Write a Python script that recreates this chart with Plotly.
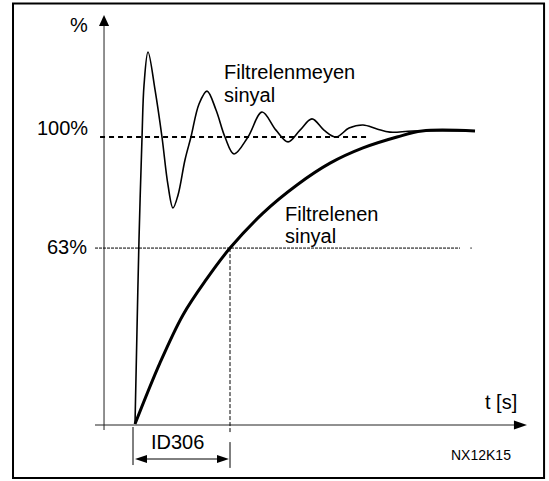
import plotly.graph_objects as go

# time in units of the filter time constant (ID306), level in %
raw_t = [0.0, 0.021, 0.042, 0.074, 0.095, 0.137, 0.211, 0.284, 0.347, 0.400, 0.453,
         0.526, 0.589, 0.674, 0.758, 0.853, 0.947, 1.042, 1.189, 1.337, 1.484, 1.611,
         1.737, 1.863, 1.989, 2.116, 2.253, 2.400, 2.547, 2.684, 2.926, 3.579]
raw_p = [0.0, 32.8, 64.1, 100.0, 118.1, 129.6, 116.4, 100.0, 83.3, 75.3, 79.8,
         92.0, 100.0, 111.5, 116.0, 109.4, 100.0, 94.1, 100.0, 108.7, 102.4, 98.3,
         102.4, 106.3, 102.4, 100.0, 103.1, 104.2, 102.8, 101.7, 102.1, 102.1]

filt_t = [0.0, 0.263, 0.505, 0.747, 1.0, 1.347, 1.705, 2.053, 2.400, 2.758, 3.021, 3.579]
filt_p = [0.0, 21.3, 38.0, 50.2, 61.3, 73.5, 83.3, 90.9, 96.2, 100.0, 102.1, 102.1]

level_100 = 100.0
level_63 = 61.3
tau = 1.0  # ID306

FONT = "Liberation Sans, Arial, sans-serif"

fig = go.Figure()

fig.add_trace(go.Scatter(x=raw_t, y=raw_p, mode="lines", line_shape="spline",
                         line=dict(color="black", width=1.6), hoverinfo="skip"))
fig.add_trace(go.Scatter(x=filt_t, y=filt_p, mode="lines", line_shape="spline",
                         line=dict(color="black", width=3), hoverinfo="skip"))

# filled arrow heads
def head(pts):
    fig.add_trace(go.Scatter(x=[p[0] for p in pts], y=[p[1] for p in pts], mode="lines",
                             fill="toself", fillcolor="black", line=dict(width=0),
                             hoverinfo="skip"))

head([(-0.326, 142.5), (-0.379, 138.7), (-0.273, 138.7), (-0.326, 142.5)])   # y axis
head([(4.126, -0.35), (3.989, 1.22), (3.989, -1.92), (4.126, -0.35)])        # x axis
head([(0.0, -12.2), (0.126, -10.8), (0.126, -13.6), (0.0, -12.2)])            # ID306 left
head([(0.989, -12.2), (0.863, -10.8), (0.863, -13.6), (0.989, -12.2)])        # ID306 right

def seg(x0, y0, x1, y1, width=1, dash="solid", color="black"):
    fig.add_shape(type="line", x0=x0, y0=y0, x1=x1, y1=y1, xref="x", yref="y",
                  line=dict(color=color, width=width, dash=dash))

# axes
seg(-0.326, -2.09, -0.326, 138.8, color="#222")
seg(-0.421, -0.35, 3.99, -0.35, color="#222")
# guide lines
seg(-0.368, level_100, 2.453, level_100, width=2, dash="5px,4px")
seg(-0.421, level_63, 3.421, level_63, width=1, dash="3px,1px")
seg(3.53, level_63, 3.545, level_63, width=1)
seg(tau, level_63, tau, -3.1, width=1, dash="4px,2px")
# ID306 span markers
seg(-0.021, -1.05, -0.021, -14.3)
seg(tau, -6.3, tau, -15.3)
seg(0.1, -12.2, 0.9, -12.2)

# frame
fig.add_shape(type="rect", xref="paper", yref="paper", x0=0.0237, x1=0.991, y0=0.0062, y1=0.9927,
              line=dict(color="black", width=2))

def label(x, y, text, size=20, xanchor="left"):
    fig.add_annotation(x=x, y=y, xref="x", yref="y", text=text, showarrow=False,
                       xanchor=xanchor, yanchor="middle", borderpad=0,
                       font=dict(family=FONT, size=size, color="black"))

label(-0.589, 138.9, "%", xanchor="center")
label(-0.484, 103.1, "100%", xanchor="right")
label(-0.495, 61.7, "63%", xanchor="right")
label(0.926, 122.6, "Filtrelenmeyen")
label(0.926, 114.8, "sinyal")
label(1.568, 73.2, "Filtrelenen")
label(1.568, 65.4, "sinyal")
label(3.674, 7.67, "t [s]")
label(0.447, -6.1, "ID306", xanchor="center")
label(3.637, -10.8, "NX12K15", size=14, xanchor="center")

fig.update_layout(
    width=549, height=481,
    margin=dict(l=0, r=0, t=0, b=0, pad=0),
    paper_bgcolor="white", plot_bgcolor="white",
    showlegend=False,
    xaxis=dict(range=[-1.4211, 4.3579], visible=False, fixedrange=True),
    yaxis=dict(range=[-19.861, 147.735], visible=False, fixedrange=True),
    hovermode=False,
)

fig.write_html("out.html", config={"displayModeBar": False},
               post_script="document.body.style.margin='0';")
